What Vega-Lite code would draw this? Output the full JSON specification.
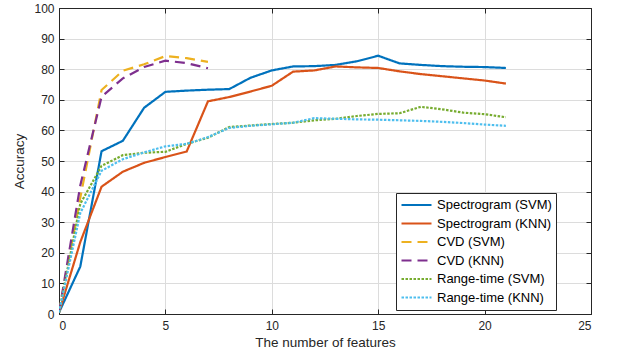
{
  "$schema": "https://vega.github.io/schema/vega-lite/v6.json",
  "width": 532,
  "height": 306,
  "autosize": {"type": "none"},
  "padding": {"left": 59, "top": 8, "right": 26, "bottom": 42},
  "config": {
    "font": "Liberation Sans",
    "view": {"stroke": "#262626", "strokeWidth": 1},
    "background": "white"
  },
  "datasets": {
    "d": [
      {"x":0,"acc":0.5,"series":"Spectrogram (SVM)"},{"x":1,"acc":15.5,"series":"Spectrogram (SVM)"},{"x":2,"acc":53.2,"series":"Spectrogram (SVM)"},{"x":3,"acc":56.6,"series":"Spectrogram (SVM)"},{"x":4,"acc":67.4,"series":"Spectrogram (SVM)"},{"x":5,"acc":72.6,"series":"Spectrogram (SVM)"},{"x":6,"acc":73.0,"series":"Spectrogram (SVM)"},{"x":7,"acc":73.3,"series":"Spectrogram (SVM)"},{"x":8,"acc":73.5,"series":"Spectrogram (SVM)"},{"x":9,"acc":77.2,"series":"Spectrogram (SVM)"},{"x":10,"acc":79.6,"series":"Spectrogram (SVM)"},{"x":11,"acc":80.9,"series":"Spectrogram (SVM)"},{"x":12,"acc":81.0,"series":"Spectrogram (SVM)"},{"x":13,"acc":81.4,"series":"Spectrogram (SVM)"},{"x":14,"acc":82.6,"series":"Spectrogram (SVM)"},{"x":15,"acc":84.4,"series":"Spectrogram (SVM)"},{"x":16,"acc":81.9,"series":"Spectrogram (SVM)"},{"x":17,"acc":81.4,"series":"Spectrogram (SVM)"},{"x":18,"acc":81.0,"series":"Spectrogram (SVM)"},{"x":19,"acc":80.8,"series":"Spectrogram (SVM)"},{"x":20,"acc":80.7,"series":"Spectrogram (SVM)"},{"x":21,"acc":80.4,"series":"Spectrogram (SVM)"},
      {"x":0,"acc":0.5,"series":"Spectrogram (KNN)"},{"x":1,"acc":23.5,"series":"Spectrogram (KNN)"},{"x":2,"acc":41.6,"series":"Spectrogram (KNN)"},{"x":3,"acc":46.5,"series":"Spectrogram (KNN)"},{"x":4,"acc":49.4,"series":"Spectrogram (KNN)"},{"x":5,"acc":51.3,"series":"Spectrogram (KNN)"},{"x":6,"acc":53.1,"series":"Spectrogram (KNN)"},{"x":7,"acc":69.5,"series":"Spectrogram (KNN)"},{"x":8,"acc":70.9,"series":"Spectrogram (KNN)"},{"x":9,"acc":72.7,"series":"Spectrogram (KNN)"},{"x":10,"acc":74.6,"series":"Spectrogram (KNN)"},{"x":11,"acc":79.2,"series":"Spectrogram (KNN)"},{"x":12,"acc":79.6,"series":"Spectrogram (KNN)"},{"x":13,"acc":80.9,"series":"Spectrogram (KNN)"},{"x":14,"acc":80.6,"series":"Spectrogram (KNN)"},{"x":15,"acc":80.4,"series":"Spectrogram (KNN)"},{"x":16,"acc":79.3,"series":"Spectrogram (KNN)"},{"x":17,"acc":78.4,"series":"Spectrogram (KNN)"},{"x":18,"acc":77.7,"series":"Spectrogram (KNN)"},{"x":19,"acc":77.0,"series":"Spectrogram (KNN)"},{"x":20,"acc":76.3,"series":"Spectrogram (KNN)"},{"x":21,"acc":75.3,"series":"Spectrogram (KNN)"},
      {"x":0,"acc":0.5,"series":"CVD (SVM)"},{"x":1,"acc":38,"series":"CVD (SVM)"},{"x":2,"acc":73.2,"series":"CVD (SVM)"},{"x":3,"acc":79.5,"series":"CVD (SVM)"},{"x":4,"acc":81.6,"series":"CVD (SVM)"},{"x":5,"acc":84.3,"series":"CVD (SVM)"},{"x":6,"acc":83.6,"series":"CVD (SVM)"},{"x":7,"acc":82.4,"series":"CVD (SVM)"},
      {"x":0,"acc":0.5,"series":"CVD (KNN)"},{"x":1,"acc":42,"series":"CVD (KNN)"},{"x":2,"acc":71.0,"series":"CVD (KNN)"},{"x":3,"acc":77.0,"series":"CVD (KNN)"},{"x":4,"acc":80.7,"series":"CVD (KNN)"},{"x":5,"acc":82.8,"series":"CVD (KNN)"},{"x":6,"acc":82.0,"series":"CVD (KNN)"},{"x":7,"acc":80.3,"series":"CVD (KNN)"},
      {"x":0,"acc":0.5,"series":"Range-time (SVM)"},{"x":1,"acc":36,"series":"Range-time (SVM)"},{"x":2,"acc":48.4,"series":"Range-time (SVM)"},{"x":3,"acc":51.9,"series":"Range-time (SVM)"},{"x":4,"acc":52.7,"series":"Range-time (SVM)"},{"x":5,"acc":53.0,"series":"Range-time (SVM)"},{"x":6,"acc":55.6,"series":"Range-time (SVM)"},{"x":7,"acc":57.6,"series":"Range-time (SVM)"},{"x":8,"acc":61.1,"series":"Range-time (SVM)"},{"x":9,"acc":61.6,"series":"Range-time (SVM)"},{"x":10,"acc":62.1,"series":"Range-time (SVM)"},{"x":11,"acc":62.5,"series":"Range-time (SVM)"},{"x":12,"acc":63.3,"series":"Range-time (SVM)"},{"x":13,"acc":63.8,"series":"Range-time (SVM)"},{"x":14,"acc":64.7,"series":"Range-time (SVM)"},{"x":15,"acc":65.4,"series":"Range-time (SVM)"},{"x":16,"acc":65.6,"series":"Range-time (SVM)"},{"x":17,"acc":67.7,"series":"Range-time (SVM)"},{"x":18,"acc":66.9,"series":"Range-time (SVM)"},{"x":19,"acc":65.8,"series":"Range-time (SVM)"},{"x":20,"acc":65.3,"series":"Range-time (SVM)"},{"x":21,"acc":64.3,"series":"Range-time (SVM)"},
      {"x":0,"acc":0.5,"series":"Range-time (KNN)"},{"x":1,"acc":33,"series":"Range-time (KNN)"},{"x":2,"acc":46.8,"series":"Range-time (KNN)"},{"x":3,"acc":50.6,"series":"Range-time (KNN)"},{"x":4,"acc":52.8,"series":"Range-time (KNN)"},{"x":5,"acc":54.8,"series":"Range-time (KNN)"},{"x":6,"acc":55.6,"series":"Range-time (KNN)"},{"x":7,"acc":57.8,"series":"Range-time (KNN)"},{"x":8,"acc":60.8,"series":"Range-time (KNN)"},{"x":9,"acc":61.5,"series":"Range-time (KNN)"},{"x":10,"acc":62.0,"series":"Range-time (KNN)"},{"x":11,"acc":62.5,"series":"Range-time (KNN)"},{"x":12,"acc":64.0,"series":"Range-time (KNN)"},{"x":13,"acc":63.8,"series":"Range-time (KNN)"},{"x":14,"acc":63.6,"series":"Range-time (KNN)"},{"x":15,"acc":63.5,"series":"Range-time (KNN)"},{"x":16,"acc":63.3,"series":"Range-time (KNN)"},{"x":17,"acc":63.1,"series":"Range-time (KNN)"},{"x":18,"acc":62.8,"series":"Range-time (KNN)"},{"x":19,"acc":62.4,"series":"Range-time (KNN)"},{"x":20,"acc":61.9,"series":"Range-time (KNN)"},{"x":21,"acc":61.5,"series":"Range-time (KNN)"}
    ]
  },
  "data": {"name": "d"},
  "layer": [
    {
      "mark": {"type": "line", "strokeWidth": 2.2, "clip": true},
      "encoding": {
        "x": {
          "field": "x", "type": "quantitative",
          "scale": {"domain": [0, 25], "nice": false, "zero": false},
          "axis": {
            "title": "The number of features", "values": [0,5,10,15,20,25],
            "grid": true, "gridColor": "#dcdcdc", "domain": true, "domainColor": "#262626",
            "tickColor": "#262626", "tickSize": -5, "labelColor": "#262626",
            "labelFontSize": 12, "labelPadding": 11, "titleFontSize": 13.5,
            "titleFontWeight": "normal", "titleColor": "#262626", "titlePadding": 4
          }
        },
        "y": {
          "field": "acc", "type": "quantitative",
          "scale": {"domain": [0, 100], "nice": false},
          "axis": {
            "title": "Accuracy", "values": [0,10,20,30,40,50,60,70,80,90,100],
            "grid": true, "gridColor": "#dcdcdc", "domain": true, "domainColor": "#262626",
            "tickColor": "#262626", "tickSize": -5, "labelColor": "#262626",
            "labelFontSize": 12, "labelPadding": 10, "titleFontSize": 13.5,
            "titleFontWeight": "normal", "titleColor": "#262626", "titlePadding": 7
          }
        },
        "color": {
          "field": "series", "type": "nominal",
          "scale": {
            "domain": ["Spectrogram (SVM)","Spectrogram (KNN)","CVD (SVM)","CVD (KNN)","Range-time (SVM)","Range-time (KNN)"],
            "range": ["#0072BD","#D95319","#EDB120","#7E2F8E","#77AC30","#4DBEEE"]
          },
          "legend": {
            "title": null, "orient": "none", "legendX": 337, "legendY": 185,
            "symbolType": "stroke", "symbolSize": 900, "symbolStrokeWidth": 2.2,
            "labelFontSize": 13, "labelColor": "#000000", "labelOffset": 4,
            "strokeColor": "#262626", "fillColor": "white", "padding": 4,
            "clipHeight": 16, "rowPadding": 2.5, "labelLimit": 200
          }
        },
        "strokeDash": {
          "field": "series", "type": "nominal",
          "scale": {
            "domain": ["Spectrogram (SVM)","Spectrogram (KNN)","CVD (SVM)","CVD (KNN)","Range-time (SVM)","Range-time (KNN)"],
            "range": [[1,0],[1,0],[10,6],[10,6],[2.5,1.5],[2.5,1.5]]
          },
          "legend": null
        }
      }
    },
    {
      "mark": {"type": "line", "opacity": 0},
      "encoding": {
        "x": {
          "field": "x", "type": "quantitative",
          "scale": {"domain": [0, 25], "nice": false, "zero": false},
          "axis": {"orient": "top", "title": null, "labels": false, "values": [0,5,10,15,20,25],
            "grid": false, "domain": true, "domainColor": "#262626", "tickColor": "#262626", "tickSize": -5}
        },
        "y": {
          "field": "acc", "type": "quantitative",
          "scale": {"domain": [0, 100], "nice": false},
          "axis": {"orient": "right", "title": null, "labels": false, "values": [0,10,20,30,40,50,60,70,80,90,100],
            "grid": false, "domain": true, "domainColor": "#262626", "tickColor": "#262626", "tickSize": -5}
        },
        "detail": {"field": "series"}
      }
    }
  ],
  "resolve": {"scale": {"x": "independent", "y": "independent"}}
}
